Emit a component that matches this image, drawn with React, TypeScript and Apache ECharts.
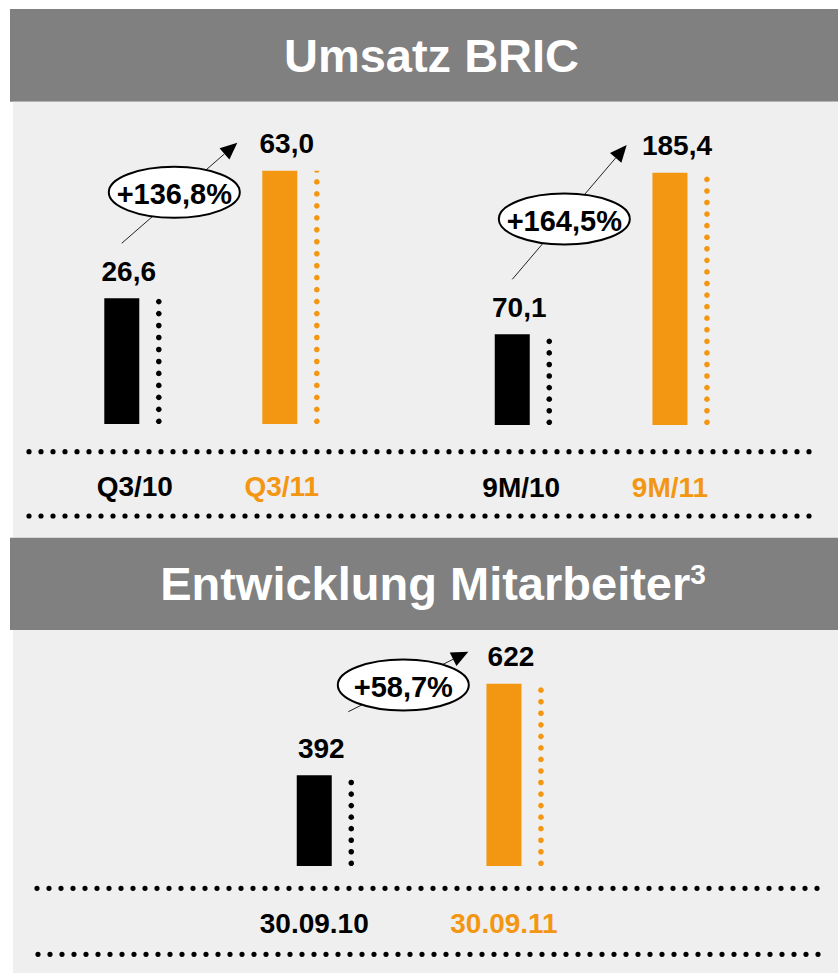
import React, { useEffect, useRef } from 'react';
import * as echarts from 'echarts';

// ---------- data ----------
const salesQ3Categories = ['Q3/10', 'Q3/11'];
const salesQ3Values = [26.6, 63.0];
const sales9MCategories = ['9M/10', '9M/11'];
const sales9MValues = [70.1, 185.4];
const staffCategories = ['30.09.10', '30.09.11'];
const staffValues = [392, 622];
const growthLabels = ['+136,8%', '+164,5%', '+58,7%'];
const titleSales = 'Umsatz BRIC';
const titleStaff = 'Entwicklung Mitarbeiter';
const titleStaffNote = '3';

// ---------- styles ----------
const FONT = '"Liberation Sans", Arial, Helvetica, sans-serif';
const ORANGE = '#F39611';
const BLACK = '#000000';
const HEADER = '#808080';
const PANEL = '#EFEFEF';
const pairColors = [BLACK, ORANGE];

// grid layouts (pixels) and axis ranges per panel group
const groups = [
  { cats: salesQ3Categories, vals: salesQ3Values, decimals: 1, grid: { left: 42.8, top: 170.7, width: 316, height: 253.3 }, min: -9.26, max: 63.0, labelMargin: 48.5, labelShift: [26, 4] },
  { cats: sales9MCategories, vals: sales9MValues, decimals: 1, grid: { left: 433.4, top: 172.7, width: 315.4, height: 252.3 }, min: 5.4, max: 185.4, labelMargin: 48, labelShift: [18, 0] },
  { cats: staffCategories, vals: staffValues, decimals: 0, grid: { left: 219.4, top: 683.7, width: 379.4, height: 182.3 }, min: 164.3, max: 622, labelMargin: 43.8, labelShift: [0, 0] },
];

// annotation geometry: arrow start, arrow tip, ellipse centre
const annotations = [
  { from: [121.7, 243.3], to: [237.3, 142.7], c: [174.3, 192.3] },
  { from: [512.3, 279.3], to: [626.7, 145.0], c: [564.3, 219.0] },
  { from: [348.3, 711.7], to: [468.3, 651.7], c: [403.3, 685.0] },
];

const fmt = (v: number, d: number) => v.toFixed(d).replace('.', ',');

function arrowElements(from: number[], to: number[], z: number) {
  const dx = to[0] - from[0];
  const dy = to[1] - from[1];
  const len = Math.sqrt(dx * dx + dy * dy);
  const ux = dx / len;
  const uy = dy / len;
  const headLen = 17;
  const headHalf = 7.5;
  const bx = to[0] - ux * headLen;
  const by = to[1] - uy * headLen;
  return [
    { type: 'line', z, shape: { x1: from[0], y1: from[1], x2: bx, y2: by }, style: { stroke: '#222', lineWidth: 1 } },
    {
      type: 'polygon', z,
      shape: { points: [[to[0], to[1]], [bx - uy * headHalf, by + ux * headHalf], [bx + uy * headHalf, by - ux * headHalf]] },
      style: { fill: '#000' },
    },
  ];
}

function dottedLine(x1: number, x2: number, y: number) {
  return {
    type: 'line', z: 1,
    shape: { x1, y1: y, x2, y2: y },
    style: { stroke: '#000', lineWidth: 5.2, lineDash: [0, 12], lineCap: 'round' },
  };
}

export default function App() {
  const ref = useRef<HTMLDivElement>(null);

  useEffect(() => {
    if (!ref.current) return;
    const chart = echarts.init(ref.current, null, { renderer: 'svg' });

    const grid: any[] = [];
    const xAxis: any[] = [];
    const yAxis: any[] = [];
    const series: any[] = [];

    groups.forEach((g, i) => {
      grid.push({ ...g.grid, containLabel: false });
      xAxis.push({
        type: 'category',
        gridIndex: i,
        data: g.cats.map((c, k) => ({
          value: c,
          textStyle: { color: pairColors[k], padding: [0, 0, 0, g.labelShift[k]] },
        })),
        axisLine: { show: false },
        axisTick: { show: false },
        splitLine: { show: false },
        axisLabel: { margin: g.labelMargin, fontSize: 28, fontWeight: 'bold', fontFamily: FONT, interval: 0 },
      });
      yAxis.push({
        type: 'value', gridIndex: i, min: g.min, max: g.max, startValue: g.min, show: false,
        splitLine: { show: false },
      });
      series.push({
        type: 'bar',
        xAxisIndex: i, yAxisIndex: i,
        barWidth: 35,
        z: 3,
        data: g.vals.map((v, k) => ({ value: v, itemStyle: { color: pairColors[k] } })),
        label: {
          show: true, position: 'top', distance: 13, offset: [7, 0],
          fontSize: 28, fontWeight: 'bold', fontFamily: FONT, color: '#000',
          formatter: (p: any) => fmt(p.value, g.decimals),
        },
      });
      series.push({
        type: 'pictorialBar',
        xAxisIndex: i, yAxisIndex: i,
        z: 3,
        symbol: 'circle',
        symbolSize: [5.4, 5.4],
        symbolRepeat: true,
        symbolMargin: 3.3,
        symbolClip: true,
        symbolOffset: [37, 0],
        data: g.vals.map((v, k) => ({ value: v, itemStyle: { color: pairColors[k] } })),
      });
    });

    const graphic: any[] = [
      { type: 'rect', z: -10, shape: { x: 10, y: 9, width: 828, height: 92.7 }, style: { fill: HEADER } },
      { type: 'rect', z: -10, shape: { x: 13, y: 101.7, width: 825, height: 436 }, style: { fill: PANEL } },
      { type: 'rect', z: -10, shape: { x: 10, y: 537.7, width: 828, height: 92.3 }, style: { fill: HEADER } },
      { type: 'rect', z: -10, shape: { x: 13, y: 630, width: 825, height: 343 }, style: { fill: PANEL } },
      {
        type: 'text', z: 5, x: 431.5, y: 55,
        style: { text: titleSales, fill: '#fff', font: `bold 47px ${FONT}`, align: 'center', verticalAlign: 'middle', textAlign: 'center', textVerticalAlign: 'middle' },
      },
      {
        type: 'text', z: 5, x: 433, y: 583.5,
        style: {
          text: `{a|${titleStaff}}{b|${titleStaffNote}}`,
          align: 'center', verticalAlign: 'middle', textAlign: 'center', textVerticalAlign: 'middle',
          rich: {
            a: { fill: '#fff', color: '#fff', fontSize: 47, fontWeight: 'bold', fontFamily: FONT, lineHeight: 47 },
            b: { fill: '#fff', color: '#fff', fontSize: 28, fontWeight: 'bold', fontFamily: FONT, verticalAlign: 'top', lineHeight: 28 },
          },
        },
      },
      dottedLine(29, 812, 451.7),
      dottedLine(29, 812, 516),
      dottedLine(37, 822, 888.3),
      dottedLine(38, 822, 954.3),
    ];

    annotations.forEach((a, i) => {
      graphic.push(...arrowElements(a.from, a.to, 10));
      graphic.push({
        type: 'ellipse', z: 11,
        shape: { cx: a.c[0], cy: a.c[1], rx: 65.5, ry: 25.5 },
        style: { fill: '#fff', stroke: '#000', lineWidth: 2 },
      });
      graphic.push({
        type: 'text', z: 12, x: a.c[0], y: a.c[1] + 2,
        style: { text: growthLabels[i], fill: '#000', font: `bold 29px ${FONT}`, align: 'center', verticalAlign: 'middle', textAlign: 'center', textVerticalAlign: 'middle' },
      });
    });

    chart.setOption({
      animation: false,
      backgroundColor: '#ffffff',
      grid,
      xAxis,
      yAxis,
      series,
      graphic: { elements: graphic },
    });

    return () => chart.dispose();
  }, []);

  return (
    <div
      ref={ref}
      style={{ position: 'absolute', left: 0, top: 0, width: 838, height: 973 }}
    />
  );
}
